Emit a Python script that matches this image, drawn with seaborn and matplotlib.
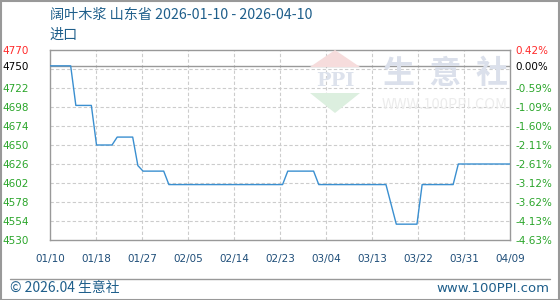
import matplotlib
matplotlib.use("Agg")
import matplotlib.pyplot as plt
import matplotlib.patches as mpatches
import matplotlib.lines as mlines
import seaborn as sns
import pandas as pd
import numpy as np

# ---------------- data ----------------
title_line1 = "阔叶木浆 山东省 2026-01-10 - 2026-04-10"
title_line2 = "进口"
start_date = "2026-01-10"
end_date = "2026-04-09"
point_dates = ["2026-01-10", "2026-01-14", "2026-01-15", "2026-01-18", "2026-01-19",
               "2026-01-22", "2026-01-23", "2026-01-26", "2026-01-27", "2026-01-28",
               "2026-02-01", "2026-02-02", "2026-02-24", "2026-02-25", "2026-03-02",
               "2026-03-03", "2026-03-16", "2026-03-17", "2026-03-18", "2026-03-22",
               "2026-03-23", "2026-03-29", "2026-03-30", "2026-04-09"]
point_values = [4750, 4750, 4700, 4700, 4650,
                4650, 4660, 4660, 4624, 4617,
                4617, 4600, 4600, 4617, 4617,
                4600, 4600, 4575, 4550, 4550,
                4600, 4600, 4626, 4626]
base_value = 4750
y_min, y_max = 4530, 4770
grid_values = [4554, 4578, 4602, 4626, 4650, 4674, 4698, 4722, 4746]
ytick_values = [4530, 4554, 4578, 4602, 4626, 4650, 4674, 4698, 4722, 4750, 4770]
ytick_labels = ["4530", "4554", "4578", "4602", "4626", "4650", "4674", "4698", "4722", "4750", "4770"]
pct_labels = ["-4.63%", "-4.13%", "-3.62%", "-3.12%", "-2.61%", "-2.11%", "-1.60%", "-1.09%", "-0.59%", "0.00%", "0.42%"]
xtick_labels = ["01/10", "01/18", "01/27", "02/05", "02/14", "02/23", "03/04", "03/13", "03/22", "03/31", "04/09"]
footer_left = "© 2026.04 生意社"
footer_right = "www.100PPI.com"

# ---------------- style ----------------
sns.set_style("white")
plt.rcParams['font.family'] = ['Noto Sans CJK SC', 'DejaVu Sans']

W, H = 560, 300
fig = plt.figure(figsize=(W / 100, H / 100), dpi=100)
fig.patch.set_facecolor("white")

L, R, T, B = 50, 510, 50, 240
ax = fig.add_axes([L / W, 1 - B / H, (R - L) / W, (B - T) / H])

start = pd.Timestamp(start_date)
days = (pd.to_datetime(point_dates) - start).days.values
n_days = (pd.Timestamp(end_date) - start).days
df = pd.DataFrame({"day": days, "value": point_values})

# watermark (behind)
wm = dict(transform=fig.transFigure, zorder=0)
fig.patches.append(mpatches.Polygon([[310 / W, 1 - 67 / H], [335 / W, 1 - 50 / H], [360 / W, 1 - 67 / H]],
                                    closed=True, facecolor="#f6dcdc", edgecolor="none", **wm))
fig.patches.append(mpatches.Polygon([[310 / W, 1 - 93 / H], [335 / W, 1 - 113 / H], [360 / W, 1 - 93 / H]],
                                    closed=True, facecolor="#dcefdf", edgecolor="none", **wm))
fig.text(335 / W, 1 - 81 / H, "PPI", ha="center", va="center", fontsize=14, fontweight="bold",
         color="#dde2ec", family="DejaVu Serif", zorder=0)
fig.text(446 / W, 1 - 74 / H, "生  意  社", ha="center", va="center", fontsize=23, fontweight="bold",
         color="#dbe0eb", zorder=0)
fig.text(445 / W, 1 - 105 / H, "WWW.100PPI.COM", ha="center", va="center", fontsize=10.5,
         color="#ececec", zorder=0)
ax.set_facecolor("none")

# grid
for g in grid_values:
    ax.axhline(g, color="#cccccc", lw=0.8, ls=(0, (3, 2)), zorder=1)
xpos = np.linspace(0, n_days, len(xtick_labels))
for xp in xpos[1:-1]:
    ax.axvline(xp, color="#cccccc", lw=0.8, ls=(0, (3, 2)), zorder=1)
ax.axhline(base_value, color="#999999", lw=1.0, zorder=2)

sns.lineplot(data=df, x="day", y="value", ax=ax, color="#3a8fd0", lw=1.0, zorder=3)

ax.set_xlim(0, n_days)
ax.set_ylim(y_min, y_max)
ax.set_xlabel("")
ax.set_ylabel("")
for s in ax.spines.values():
    s.set_color("#999999")
    s.set_linewidth(1.0)

def ycolor(v):
    if v > base_value:
        return "#ff2a2a"
    if v == base_value:
        return "#000000"
    return "#2aa52a"

ax.set_yticks(ytick_values)
ax.set_yticklabels(ytick_labels, fontsize=7.5, family="DejaVu Sans")
ax.tick_params(axis="y", length=0, pad=15.5)
for lab, v in zip(ax.get_yticklabels(), ytick_values):
    lab.set_color(ycolor(v))

ax.set_xticks(xpos)
ax.set_xticklabels(xtick_labels, fontsize=7.5, family="DejaVu Sans", color="#1f4e79")
ax.tick_params(axis="x", length=0, pad=10)

ax2 = ax.twinx()
ax2.set_ylim(y_min, y_max)
ax2.set_yticks(ytick_values)
ax2.set_yticklabels(pct_labels, fontsize=7.5, family="DejaVu Sans")
ax2.tick_params(axis="y", length=0, pad=4)
for lab, v in zip(ax2.get_yticklabels(), ytick_values):
    lab.set_color(ycolor(v))
for s in ax2.spines.values():
    s.set_visible(False)

# titles
fig.text(L / W, 1 - 15 / H, title_line1, ha="left", va="center", fontsize=10.2, color="#1f5f8b")
fig.text(L / W, 1 - 35 / H, title_line2, ha="left", va="center", fontsize=10.2, color="#1f5f8b")

# footer
fig.lines.append(mlines.Line2D([10 / W, 550 / W], [1 - 279 / H, 1 - 279 / H], transform=fig.transFigure,
                               color="#999999", lw=1.0))
fig.text(10 / W, 1 - 288 / H, footer_left, ha="left", va="center", fontsize=10, color="#1f5f8b")
fig.text(549 / W, 1 - 288 / H, footer_right, ha="right", va="center", fontsize=9.5, color="#1f5f8b",
         family="DejaVu Sans")

# outer border
fig.patches.append(mpatches.Rectangle((0.5 / W, 0.5 / H), (W - 1.5) / W, (H - 1.5) / H, transform=fig.transFigure,
                                      fill=False, edgecolor="#999999", lw=1.5))

fig.savefig("out.png", dpi=100)
